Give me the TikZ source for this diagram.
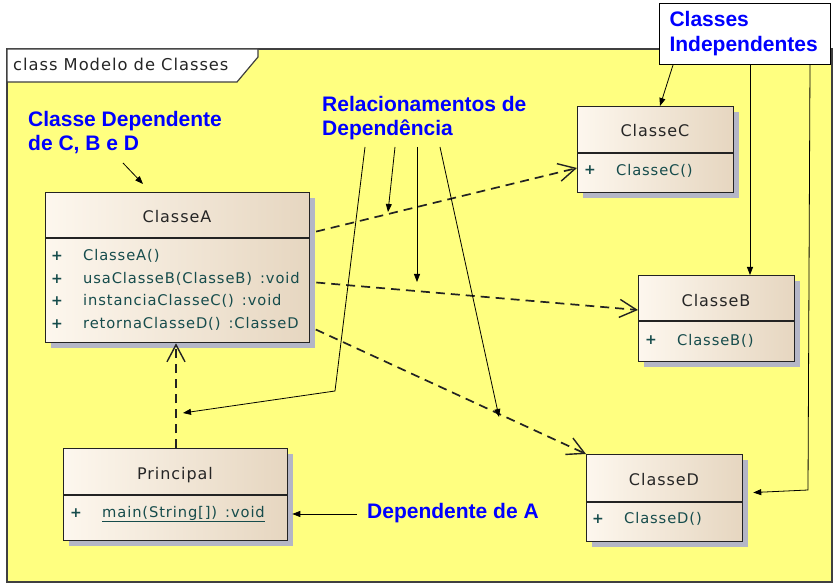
\documentclass[tikz,border=0pt]{standalone}
\usepackage{fontspec}
\setmainfont{Liberation Sans}
\newfontfamily\umlfont[LetterSpace=6]{DejaVu Sans}
\usetikzlibrary{arrows.meta,shadows}

\definecolor{frameyellow}{RGB}{255,255,128}
\definecolor{notesblue}{RGB}{0,0,255}
\definecolor{boxlight}{RGB}{253,247,238}
\definecolor{boxdark}{RGB}{230,214,192}
\definecolor{boxshadow}{RGB}{180,182,198}
\definecolor{methodteal}{RGB}{22,76,76}
\definecolor{linegray}{RGB}{35,35,35}

\tikzset{
  classbox/.style={draw=linegray, line width=1.3pt, left color=boxlight, right color=boxdark,
    inner sep=0pt, anchor=north west,
    drop shadow={shadow xshift=5pt, shadow yshift=-5pt, fill=boxshadow, opacity=1}},
  divider/.style={draw=linegray, line width=1.3pt},
  classname/.style={font=\umlfont\fontsize{16}{19}\selectfont, text=black!85, inner sep=0pt},
  member/.style={font=\umlfont\fontsize{14.7}{17}\selectfont, text=methodteal, inner sep=0pt, anchor=west},
  plus/.style={font=\umlfont\bfseries\fontsize{14}{17}\selectfont, text=methodteal, inner sep=0pt},
  dep/.style={draw=linegray, line width=1.7pt, dash pattern=on 9pt off 6pt,
    -{Straight Barb[length=17pt,width=18pt,line width=1.4pt]}},
  pointer/.style={draw=black, line width=0.8pt, -{Triangle[length=8pt,width=6pt]}},
  note/.style={font=\bfseries\fontsize{21}{24}\selectfont, text=notesblue, align=left, inner sep=0pt},
  frameline/.style={draw=black!75, line width=1.2pt}
}

\begin{document}
\begin{tikzpicture}[x=1pt,y=-1pt]
\useasboundingbox (0,0) rectangle (839,588);

% frame
\fill[frameyellow] (7,49) rectangle (832,582);
\draw[frameline] (7,49) rectangle (832,582);
\draw[frameline, fill=white] (7,49) -- (258,49) -- (258,57) -- (237,82) -- (7,82) -- cycle;
\node[classname, anchor=base west, font=\umlfont\fontsize{16.3}{19}\selectfont] (frameName) at (13,71) {class Modelo de Classes};

% classes
\node[classbox, minimum width=264pt, minimum height=150pt] (classeA) at (45,192) {};
\draw[divider] (classeA.west |- 0,238) -- (classeA.east |- 0,238);
\node[classname] (nameA) at (177,217) {ClasseA};
\node[plus] (plusA1) at (57,256) {+};
\node[plus] (plusA2) at (57,279) {+};
\node[plus] (plusA3) at (57,301) {+};
\node[plus] (plusA4) at (57,324) {+};
\node[member] (opA1) at (83,256) {ClasseA()};
\node[member] (opA2) at (83,279) {usaClasseB(ClasseB) \,:void};
\node[member] (opA3) at (83,301) {instanciaClasseC() \,:void};
\node[member] (opA4) at (83,324) {retornaClasseD() \,:ClasseD};

\node[classbox, minimum width=156pt, minimum height=86pt] (classeC) at (577,106) {};
\draw[divider] (classeC.west |- 0,153) -- (classeC.east |- 0,153);
\node[classname] (nameC) at (655,131) {ClasseC};
\node[plus] (plusC) at (590,170) {+};
\node[member] (opC) at (616,171) {ClasseC()};

\node[classbox, minimum width=156pt, minimum height=86pt] (classeB) at (638,275) {};
\draw[divider] (classeB.west |- 0,321) -- (classeB.east |- 0,321);
\node[classname] (nameB) at (716,301) {ClasseB};
\node[plus] (plusB) at (651,340) {+};
\node[member] (opB) at (677,341) {ClasseB()};

\node[classbox, minimum width=224pt, minimum height=92pt] (principal) at (63,448) {};
\draw[divider] (principal.west |- 0,495) -- (principal.east |- 0,495);
\node[classname] (nameP) at (175,475) {Principal};
\node[plus] (plusP) at (76,513) {+};
\node[member] (opP) at (102,514) {\underline{main(String[]) \,:void}};

\node[classbox, minimum width=156pt, minimum height=87pt] (classeD) at (586,454) {};
\draw[divider] (classeD.west |- 0,502) -- (classeD.east |- 0,502);
\node[classname] (nameD) at (664,480) {ClasseD};
\node[plus] (plusD) at (598,519) {+};
\node[member] (opD) at (624,519) {ClasseD()};

% dependencias
\draw[dep, shorten <=6pt] (classeA.east |- 0,233) -- (classeC.west |- 0,168);
\draw[dep, shorten <=6pt] (classeA.east |- 0,282) -- (classeB.west |- 0,310);
\draw[dep, shorten <=6pt] (classeA.east |- 0,327) -- (classeD.north west);
\draw[dep] (principal.north -| 176,0) -- (classeA.south -| 176,0);

% notas
\node[note, anchor=north west] (lblDep) at (28,111) {Classe Dependente\\de C, B e D};
\node[note, anchor=north west] (lblRel) at (322,96) {Relacionamentos de\\Depend\^encia};
\node[note, anchor=base west] (lblDepA) at (367,518) {Dependente de A};
\node[note, draw=black, line width=1pt, fill=white, anchor=north west,
      minimum width=171pt, minimum height=61pt, text width=151pt, inner xsep=10pt,
      font=\bfseries\fontsize{21}{25}\selectfont] (lblInd) at (659,3) {Classes\\Independentes};

\coordinate (depFrom) at (123,163);
\coordinate (depTo) at (143,184);
\draw[pointer] (depFrom) -- (depTo);

\coordinate (rel1) at (365,147);
\coordinate (rel1Bend) at (335,391);
\coordinate (rel1To) at (183,413);
\coordinate (rel2) at (395,147);
\coordinate (rel2To) at (388,212);
\coordinate (rel3) at (417,147);
\coordinate (rel3To) at (417,282);
\coordinate (rel4) at (440,147);
\coordinate (rel4To) at (499,417);
\draw[pointer] (rel1) -- (rel1Bend) -- (rel1To);
\draw[pointer] (rel2) -- (rel2To);
\draw[pointer] (rel3) -- (rel3To);
\draw[pointer] (rel4) -- (rel4To);

\coordinate (indBend) at (808,490);
\draw[pointer] (lblInd.south -| 673,0) -- (classeC.north -| 660,0);
\draw[pointer] (lblInd.south -| 750,0) -- (classeB.north -| 750,0);
\draw[pointer, shorten >=10pt] (lblInd.south -| 810,0) -- (indBend) -- (classeD.east |- 0,493);

\draw[pointer, shorten <=10pt, shorten >=4pt] (lblDepA.west |- 0,514) -- (principal.east |- 0,514);

\end{tikzpicture}
\end{document}
